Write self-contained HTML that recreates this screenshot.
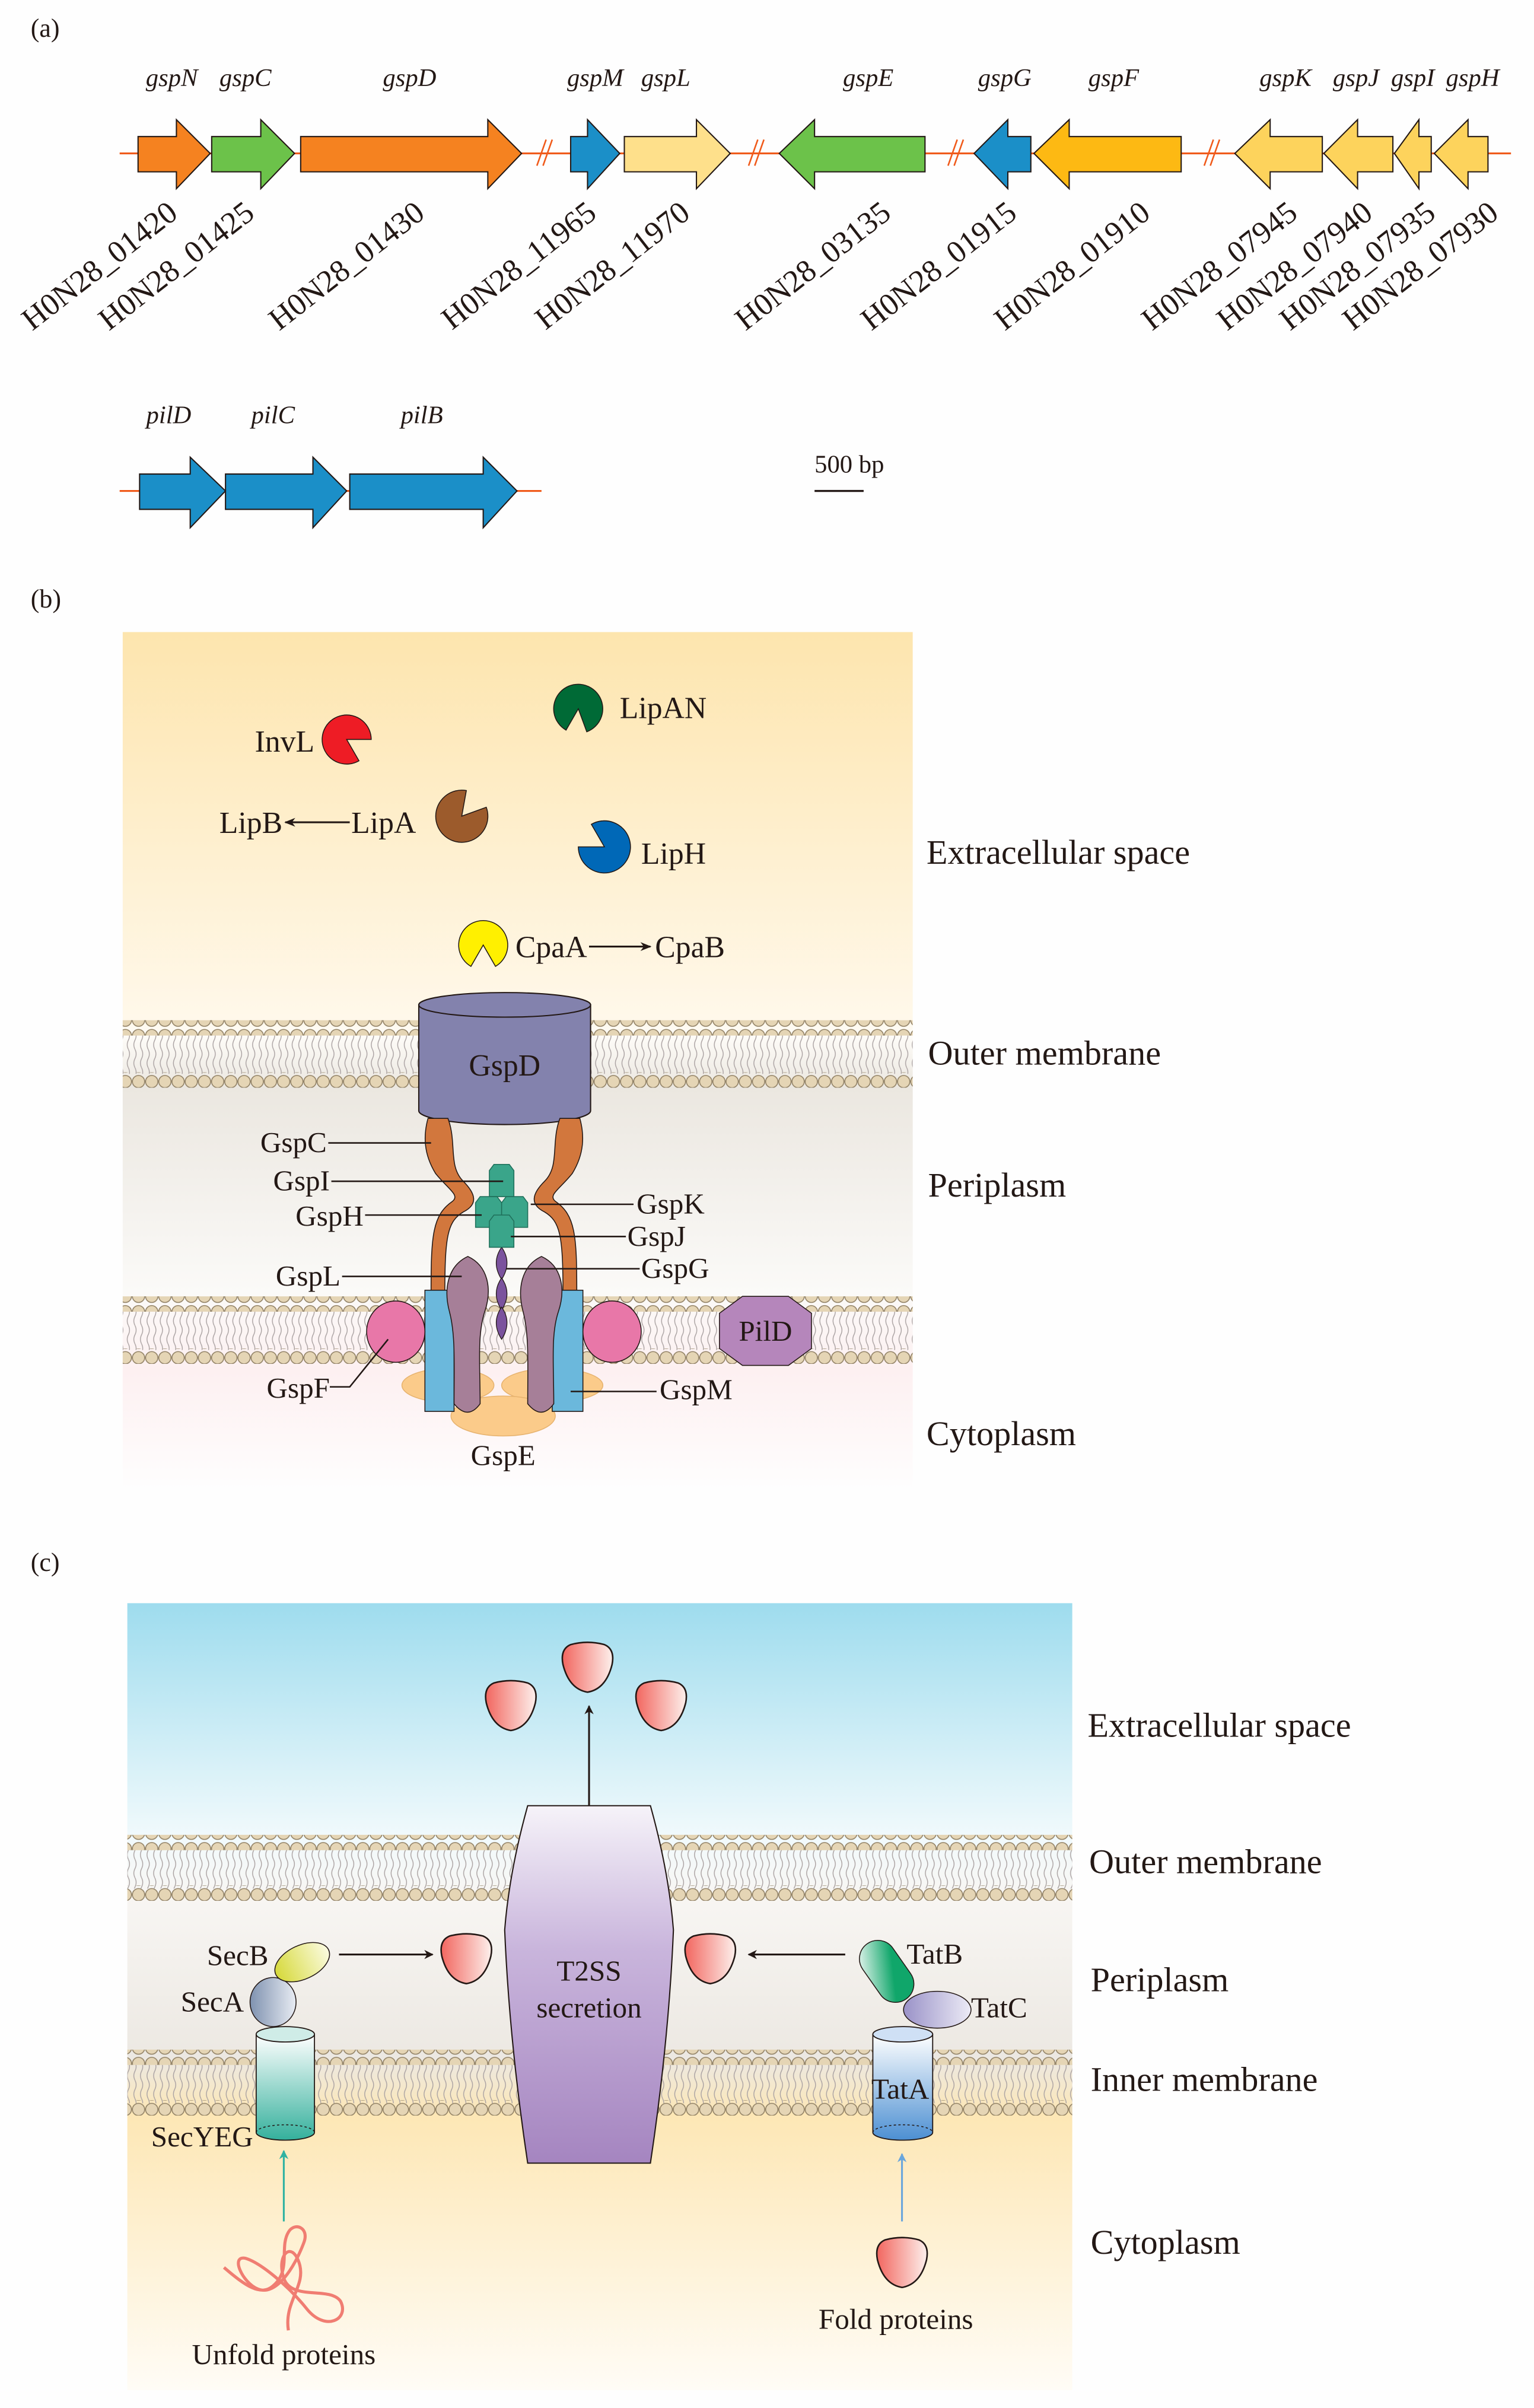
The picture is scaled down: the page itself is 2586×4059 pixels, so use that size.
<!DOCTYPE html>
<html><head><meta charset="utf-8"><style>html,body{margin:0;padding:0;background:#fefefe}svg{display:block}</style></head>
<body>
<svg xmlns="http://www.w3.org/2000/svg" width="2586" height="4059" viewBox="0 0 1000 1569.6" preserveAspectRatio="none" font-family="'Liberation Serif', serif" fill="#231815">
<defs>
<linearGradient id="bgB" x1="0" y1="0" x2="0" y2="1">
<stop offset="0" stop-color="#fde5ae"/><stop offset="0.45" stop-color="#fff8ea"/><stop offset="0.47" stop-color="#fefcf8"/>
<stop offset="0.53" stop-color="#ebe7e0"/><stop offset="0.77" stop-color="#fbfaf8"/><stop offset="0.86" stop-color="#fdf0f1"/><stop offset="1" stop-color="#fefefe"/></linearGradient>
<linearGradient id="bgC" x1="0" y1="0" x2="0" y2="1">
<stop offset="0" stop-color="#9edcee"/><stop offset="0.3" stop-color="#f2fafc"/><stop offset="0.37" stop-color="#f8f6f3"/>
<stop offset="0.58" stop-color="#ece8e2"/><stop offset="0.65" stop-color="#fde7b5"/><stop offset="1" stop-color="#fffcf6"/></linearGradient>
<pattern id="heads" width="8.6" height="10" patternUnits="userSpaceOnUse"><circle cx="4.3" cy="5" r="4" fill="#e5d5b5" stroke="#8f7f63" stroke-width="0.6"/></pattern>
<pattern id="tails" width="4.3" height="12" patternUnits="userSpaceOnUse"><path d="M2 0 q1.5 3 0 6 q-1.5 3 0 6" stroke="#aaa2a2" stroke-width="0.55" fill="none"/></pattern>
<linearGradient id="prot" x1="0" y1="0" x2="1" y2="0"><stop offset="0" stop-color="#f2665f"/><stop offset="1" stop-color="#fdf0ec"/></linearGradient>
<linearGradient id="t2ss" x1="0" y1="0" x2="0" y2="1"><stop offset="0" stop-color="#f6f3f9"/><stop offset="0.4" stop-color="#c9b5dc"/><stop offset="1" stop-color="#a585c0"/></linearGradient>
<linearGradient id="secy" x1="0" y1="0" x2="0" y2="1"><stop offset="0" stop-color="#ffffff"/><stop offset="1" stop-color="#34b09c"/></linearGradient>
<linearGradient id="tata" x1="0" y1="0" x2="0" y2="1"><stop offset="0" stop-color="#ffffff"/><stop offset="1" stop-color="#4c8fd2"/></linearGradient>
<linearGradient id="secb" x1="0" y1="0" x2="1" y2="0"><stop offset="0" stop-color="#d6d93a"/><stop offset="1" stop-color="#fbfbe0"/></linearGradient>
<linearGradient id="seca" x1="0" y1="0" x2="1" y2="0"><stop offset="0" stop-color="#7f92b0"/><stop offset="1" stop-color="#e8ecf3"/></linearGradient>
<linearGradient id="tatb" x1="0" y1="0" x2="1" y2="1"><stop offset="0" stop-color="#ffffff"/><stop offset="0.6" stop-color="#10a66a"/></linearGradient>
<linearGradient id="tatc" x1="0" y1="0" x2="1" y2="0"><stop offset="0" stop-color="#9a92c8"/><stop offset="1" stop-color="#ecebf6"/></linearGradient>
<marker id="ah" viewBox="0 0 10 10" refX="9" refY="5" markerWidth="6" markerHeight="6" orient="auto"><path d="M0 1 L10 5 L0 9 L3 5Z" fill="#231815"/></marker>
<marker id="ahb" viewBox="0 0 10 10" refX="9" refY="5" markerWidth="5" markerHeight="7" orient="auto"><path d="M0 0 L10 5 L0 10 L3 5Z" fill="#231815"/></marker>
<marker id="aht" viewBox="0 0 10 10" refX="9" refY="5" markerWidth="5" markerHeight="7" orient="auto"><path d="M0 0 L10 5 L0 10 L3 5Z" fill="#2fb2a2"/></marker>
<marker id="ahbl" viewBox="0 0 10 10" refX="9" refY="5" markerWidth="5" markerHeight="7" orient="auto"><path d="M0 0 L10 5 L0 10 L3 5Z" fill="#6aa6dc"/></marker>
<path id="pr" d="M-11 -15 Q0 -18 11 -15 Q18 -12 16 -2 Q12 14 0 16 Q-12 14 -16 -2 Q-18 -12 -11 -15Z" fill="url(#prot)" stroke="#231815" stroke-width="1"/>
</defs>

<!-- (a) -->
<text x="20" y="24" font-size="17">(a)</text>
<g stroke="#f05a1a" stroke-width="1.2">
<line x1="78" y1="100" x2="985" y2="100"/><line x1="78" y1="320" x2="353" y2="320"/>
</g>
<g stroke="#f05a1a" stroke-width="1" fill="none">
<path d="M350 108 L356 91 M354 108 L360 91"/><path d="M488 108 L494 91 M492 108 L498 91"/>
<path d="M618 108 L624 91 M622 108 L628 91"/><path d="M785 108 L791 91 M789 108 L795 91"/>
</g>
<g stroke="#231815" stroke-width="0.8">
<path d="M90 89 L115 89 L115 78 L137 100 L115 123 L115 112 L90 112Z" fill="#f58220"/>
<path d="M138 89 L170 89 L170 78 L192 100 L170 123 L170 112 L138 112Z" fill="#6cc24a"/>
<path d="M196 89 L318 89 L318 78 L340 100 L318 123 L318 112 L196 112Z" fill="#f58220"/>
<path d="M372 89 L383 89 L383 78 L404 100 L383 123 L383 112 L372 112Z" fill="#1b8fc8"/>
<path d="M407 89 L454 89 L454 78 L476 100 L454 123 L454 112 L407 112Z" fill="#fee08b"/>
<path d="M603 89 L531 89 L531 78 L508 100 L531 123 L531 112 L603 112Z" fill="#6cc24a"/>
<path d="M672 89 L657 89 L657 78 L635 100 L657 123 L657 112 L672 112Z" fill="#1b8fc8"/>
<path d="M770 89 L697 89 L697 78 L674 100 L697 123 L697 112 L770 112Z" fill="#fdb913"/>
<path d="M862 89 L828 89 L828 78 L805 100 L828 123 L828 112 L862 112Z" fill="#fdd35c"/>
<path d="M908 89 L885 89 L885 78 L863 100 L885 123 L885 112 L908 112Z" fill="#fdd35c"/>
<path d="M933 89 L925 89 L925 78 L909 100 L925 123 L925 112 L933 112Z" fill="#fdd35c"/>
<path d="M970 89 L957 89 L957 78 L935 100 L957 123 L957 112 L970 112Z" fill="#fdd35c"/>
<path d="M91 309 L124 309 L124 298 L147 320 L124 344 L124 332 L91 332Z" fill="#1b8fc8"/>
<path d="M147 309 L204 309 L204 298 L226 320 L204 344 L204 332 L147 332Z" fill="#1b8fc8"/>
<path d="M228 309 L315 309 L315 298 L337 320 L315 344 L315 332 L228 332Z" fill="#1b8fc8"/>
</g>
<g font-size="16.5" font-style="italic" text-anchor="middle">
<text x="112" y="56">gspN</text><text x="160" y="56">gspC</text><text x="267" y="56">gspD</text>
<text x="388" y="56">gspM</text><text x="434" y="56">gspL</text><text x="566" y="56">gspE</text>
<text x="655" y="56">gspG</text><text x="726" y="56">gspF</text><text x="838" y="56">gspK</text>
<text x="884" y="56">gspJ</text><text x="921" y="56">gspI</text><text x="960" y="56">gspH</text>
<text x="110" y="276">pilD</text><text x="178" y="276">pilC</text><text x="275" y="276">pilB</text>
</g>
<g font-size="20.5" text-anchor="end">
<text transform="translate(117,141) rotate(-38)">H0N28_01420</text>
<text transform="translate(167,141) rotate(-38)">H0N28_01425</text>
<text transform="translate(278,141) rotate(-38)">H0N28_01430</text>
<text transform="translate(390,141) rotate(-38)">H0N28_11965</text>
<text transform="translate(451,141) rotate(-38)">H0N28_11970</text>
<text transform="translate(582,141) rotate(-38)">H0N28_03135</text>
<text transform="translate(664,141) rotate(-38)">H0N28_01915</text>
<text transform="translate(751,141) rotate(-38)">H0N28_01910</text>
<text transform="translate(847,141) rotate(-38)">H0N28_07945</text>
<text transform="translate(896,141) rotate(-38)">H0N28_07940</text>
<text transform="translate(937,141) rotate(-38)">H0N28_07935</text>
<text transform="translate(978,141) rotate(-38)">H0N28_07930</text>
</g>
<text x="531" y="308" font-size="16.5">500 bp</text>
<line x1="531" y1="320" x2="563" y2="320" stroke="#231815" stroke-width="1.3"/>

<!-- (b) -->
<text x="20" y="396" font-size="17">(b)</text>
<rect x="80" y="412" width="515" height="560" fill="url(#bgB)"/>
<rect x="80" y="674" width="515" height="26" fill="url(#tails)"/>
<rect x="80" y="665" width="515" height="10" fill="url(#heads)"/>
<rect x="80" y="699" width="515" height="10" fill="url(#heads)"/>
<rect x="80" y="854" width="515" height="26" fill="url(#tails)"/>
<rect x="80" y="845" width="515" height="10" fill="url(#heads)"/>
<rect x="80" y="879" width="515" height="10" fill="url(#heads)"/>

<g stroke="#231815" stroke-width="0.6">
<path d="M226 482 L234 495.9 A16 16 0 1 1 242 482Z" fill="#ee1c25"/>
<path d="M377 462 L369 475.9 A16 16 0 1 1 382.5 477Z" fill="#006a36"/>
<path d="M301 532 L317 526.2 A17 17 0 1 1 304 515.3Z" fill="#9c5b2c"/>
<path d="M394 552 L385.5 537.3 A17 17 0 1 1 377 552Z" fill="#0068b7"/>
<path d="M315 616 L307 629.9 A16 16 0 1 1 323 629.9Z" fill="#fff000"/>
</g>
<g font-size="20">
<text x="205" y="490" text-anchor="end">InvL</text>
<text x="404" y="468">LipAN</text>
<text x="143" y="543">LipB</text><text x="229" y="543">LipA</text>
<text x="418" y="563">LipH</text>
<text x="336" y="624">CpaA</text><text x="427" y="624">CpaB</text>
</g>
<line x1="228" y1="536" x2="186" y2="536" stroke="#231815" stroke-width="1.2" marker-end="url(#ah)"/>
<line x1="384" y1="617" x2="424" y2="617" stroke="#231815" stroke-width="1.2" marker-end="url(#ah)"/>

<!-- GspD -->
<path d="M273 655 L273 724 A56 9 0 0 0 385 724 L385 655Z" fill="#8382ad" stroke="#231815" stroke-width="0.8"/>
<ellipse cx="329" cy="655" rx="56" ry="8" fill="#8382ad" stroke="#231815" stroke-width="0.8"/>
<text x="329" y="701" font-size="20" text-anchor="middle">GspD</text>

<!-- GspC arms -->
<g fill="#d2773d" stroke="#231815" stroke-width="0.6">
<path d="M279 729 L292 729 C298 745 292 760 302 770 C310 778 312 785 302 790 C292 796 290 805 290 842 L281 842 C281 805 282 792 295 783 C300 779 292 775 284 765 C276 752 276 740 279 729Z"/>
<path d="M378 729 L365 729 C359 745 365 760 355 770 C347 778 345 785 355 790 C365 796 367 805 367 842 L376 842 C376 805 375 792 362 783 C357 779 365 775 373 765 C381 752 381 740 378 729Z"/>
</g>
<!-- GspE -->
<g fill="#fbcb8a" stroke="#e7b36f" stroke-width="0.6">
<ellipse cx="292" cy="903" rx="30" ry="11"/><ellipse cx="360" cy="903" rx="33" ry="11"/><ellipse cx="328" cy="923" rx="34" ry="13"/>
</g>
<!-- GspM -->
<g fill="#6bb8dc" stroke="#231815" stroke-width="0.6">
<rect x="277" y="841" width="19" height="79"/><rect x="360" y="841" width="20" height="79"/>
</g>
<!-- GspL -->
<g fill="#a67f98" stroke="#231815" stroke-width="0.6">
<path d="M305 819 C292 825 289 840 293 855 C297 870 296 890 296 915 Q305 926 313 915 C313 890 311 870 316 855 C321 840 318 825 305 819Z"/>
<path d="M353 819 C340 825 337 840 341 855 C345 870 344 890 344 915 Q353 926 361 915 C361 890 359 870 364 855 C369 840 366 825 353 819Z"/>
</g>
<!-- pink -->
<g fill="#e877a8" stroke="#231815" stroke-width="0.6">
<ellipse cx="258" cy="868" rx="19" ry="20"/><ellipse cx="399" cy="868" rx="19" ry="20"/>
</g>
<path d="M484 845 L514 845 L529 856 L529 879 L514 890 L484 890 L469 879 L469 856Z" fill="#b586bb" stroke="#231815" stroke-width="0.6"/>
<text x="499" y="874" font-size="19" text-anchor="middle">PilD</text>
<!-- GspG -->
<g fill="#7b539d" stroke="#231815" stroke-width="0.5">
<path d="M327 813 Q334 823 327 834 Q320 823 327 813Z"/><path d="M327 833 Q334 843 327 854 Q320 843 327 833Z"/><path d="M327 852 Q334 862 327 873 Q320 862 327 852Z"/>
</g>
<!-- green -->
<g fill="#3aa58a" stroke="#1f6f5a" stroke-width="0.6">
<path d="M319 763 L322 759 L332 759 L335 763 L335 780 L319 780Z"/>
<path d="M310 784 L313 780 L324 780 L327 784 L327 800 L310 800Z"/>
<path d="M327 784 L330 780 L341 780 L344 784 L344 800 L327 800Z"/>
<path d="M319 796 L322 792 L332 792 L335 796 L335 813 L319 813Z"/>
</g>
<g stroke="#231815" stroke-width="1" fill="none">
<line x1="214" y1="745" x2="281" y2="745"/><line x1="216" y1="770" x2="328" y2="770"/>
<line x1="238" y1="792" x2="314" y2="792"/><line x1="223" y1="832" x2="301" y2="832"/>
<line x1="346" y1="785" x2="413" y2="785"/><line x1="333" y1="806" x2="408" y2="806"/>
<line x1="330" y1="827" x2="417" y2="827"/><line x1="372" y1="907" x2="428" y2="907"/>
<path d="M215 904 L228 904 L253 873"/>
</g>
<g font-size="19">
<text x="213" y="751" text-anchor="end">GspC</text><text x="215" y="776" text-anchor="end">GspI</text>
<text x="237" y="799" text-anchor="end">GspH</text><text x="222" y="838" text-anchor="end">GspL</text>
<text x="215" y="911" text-anchor="end">GspF</text>
<text x="415" y="791">GspK</text><text x="409" y="812">GspJ</text><text x="418" y="833">GspG</text>
<text x="430" y="912">GspM</text><text x="328" y="955" text-anchor="middle">GspE</text>
</g>
<g font-size="22.5">
<text x="604" y="563">Extracellular space</text><text x="605" y="694">Outer membrane</text>
<text x="605" y="780">Periplasm</text><text x="604" y="942">Cytoplasm</text>
</g>

<!-- (c) -->
<text x="20" y="1024" font-size="17">(c)</text>
<rect x="83" y="1045" width="616" height="513" fill="url(#bgC)"/>
<rect x="83" y="1205" width="616" height="26" fill="url(#tails)"/>
<rect x="83" y="1196" width="616" height="10" fill="url(#heads)"/>
<rect x="83" y="1229" width="616" height="10" fill="url(#heads)"/>
<rect x="83" y="1345" width="616" height="26" fill="url(#tails)"/>
<rect x="83" y="1336" width="616" height="10" fill="url(#heads)"/>
<rect x="83" y="1369" width="616" height="10" fill="url(#heads)"/>

<path d="M344 1177 L424 1177 Q436 1220 439 1258 Q436 1330 424 1410 L344 1410 Q332 1330 329 1258 Q332 1220 344 1177Z" fill="url(#t2ss)" stroke="#231815" stroke-width="0.8"/>
<g font-size="19" text-anchor="middle"><text x="384" y="1291">T2SS</text><text x="384" y="1315">secretion</text></g>
<line x1="384" y1="1177" x2="384" y2="1112" stroke="#231815" stroke-width="1.2" marker-end="url(#ahb)"/>
<use href="#pr" x="383" y="1087"/><use href="#pr" x="333" y="1112"/><use href="#pr" x="431" y="1112"/>
<use href="#pr" x="304" y="1277"/><use href="#pr" x="463" y="1277"/><use href="#pr" x="588" y="1475"/>
<line x1="221" y1="1274" x2="282" y2="1274" stroke="#231815" stroke-width="1.2" marker-end="url(#ahb)"/>
<line x1="551" y1="1274" x2="488" y2="1274" stroke="#231815" stroke-width="1.2" marker-end="url(#ahb)"/>

<!-- Sec -->
<ellipse cx="178" cy="1305" rx="15" ry="16" fill="url(#seca)" stroke="#231815" stroke-width="0.6"/>
<ellipse cx="197" cy="1279" rx="19" ry="11" transform="rotate(-25 197 1279)" fill="url(#secb)" stroke="#231815" stroke-width="0.6"/>
<path d="M167 1326 L167 1390 A19 5 0 0 0 205 1390 L205 1326Z" fill="url(#secy)" stroke="#231815" stroke-width="0.7"/>
<ellipse cx="186" cy="1326" rx="19" ry="5" fill="#cfece7" stroke="#231815" stroke-width="0.7"/>
<path d="M167 1390 A19 5 0 0 1 205 1390" fill="none" stroke="#231815" stroke-width="0.6" stroke-dasharray="1.5 1.5"/>
<!-- Tat -->
<rect x="566" y="1263" width="24" height="44" rx="12" transform="rotate(-35 578 1285)" fill="url(#tatb)" stroke="#231815" stroke-width="0.6"/>
<ellipse cx="611" cy="1310" rx="22" ry="12" fill="url(#tatc)" stroke="#231815" stroke-width="0.6"/>
<path d="M569 1326 L569 1390 A19.5 5 0 0 0 608 1390 L608 1326Z" fill="url(#tata)" stroke="#231815" stroke-width="0.7"/>
<ellipse cx="588.5" cy="1326" rx="19.5" ry="5" fill="#cfe0f5" stroke="#231815" stroke-width="0.7"/>
<path d="M569 1390 A19.5 5 0 0 1 608 1390" fill="none" stroke="#231815" stroke-width="0.6" stroke-dasharray="1.5 1.5"/>

<line x1="185" y1="1448" x2="185" y2="1402" stroke="#2fb2a2" stroke-width="1.2" marker-end="url(#aht)"/>
<line x1="588" y1="1448" x2="588" y2="1404" stroke="#6aa6dc" stroke-width="1.2" marker-end="url(#ahbl)"/>
<path d="M188 1519 C185 1500 200 1490 195 1475 C190 1460 180 1470 185 1485 C190 1500 215 1490 222 1500 C228 1512 212 1520 200 1505 C188 1490 170 1475 160 1472 C150 1470 158 1488 168 1492 C180 1497 192 1478 198 1462 C202 1452 192 1448 188 1455 C182 1465 190 1480 178 1490 C170 1497 160 1490 146 1478" fill="none" stroke="#f07d72" stroke-width="2"/>

<g font-size="19">
<text x="175" y="1281" text-anchor="end">SecB</text><text x="159" y="1311" text-anchor="end">SecA</text>
<text x="165" y="1399" text-anchor="end">SecYEG</text>
<text x="591" y="1280">TatB</text><text x="633" y="1315">TatC</text><text x="568" y="1368">TatA</text>
<text x="185" y="1541" text-anchor="middle">Unfold proteins</text>
<text x="584" y="1518" text-anchor="middle">Fold proteins</text>
</g>
<g font-size="22.5">
<text x="709" y="1132">Extracellular space</text><text x="710" y="1221">Outer membrane</text>
<text x="711" y="1298">Periplasm</text><text x="711" y="1363">Inner membrane</text>
<text x="711" y="1469">Cytoplasm</text>
</g>
</svg>
</body></html>
